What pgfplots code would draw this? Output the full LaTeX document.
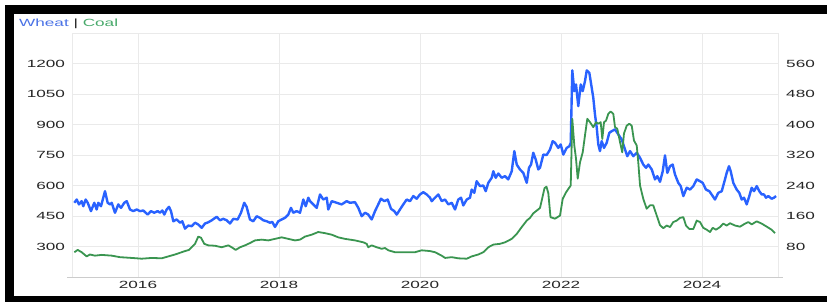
\documentclass[border=0pt]{standalone}
\usepackage{pgfplots}
\pgfplotsset{compat=1.18}
\usepackage{pgfplotstable}
\usepackage{fontspec}
\setmainfont{Liberation Sans}
\usepackage{graphicx}
\definecolor{wheat}{HTML}{2962FF}
\definecolor{coal}{HTML}{3A9550}
\definecolor{wheatlab}{HTML}{4A72E6}
\definecolor{coallab}{HTML}{47A96A}
\definecolor{gridc}{HTML}{EAEAEA}
\definecolor{lab}{HTML}{262626}
\newcommand\sx[1]{\scalebox{1.65}[1]{#1}}

\pgfplotstableread{
x v
2015.097 515
2015.131 531
2015.163 507
2015.201 523
2015.224 498
2015.258 531
2015.287 515
2015.333 474
2015.380 515
2015.414 482
2015.437 515
2015.475 498
2015.532 572
2015.570 515
2015.603 507
2015.627 515
2015.674 466
2015.721 507
2015.759 490
2015.806 515
2015.840 523
2015.887 482
2015.933 474
2015.982 482
2016.028 474
2016.075 477
2016.138 457
2016.184 474
2016.231 466
2016.279 474
2016.312 466
2016.345 477
2016.373 457
2016.407 482
2016.440 495
2016.468 474
2016.501 424
2016.549 433
2016.596 417
2016.628 424
2016.667 388
2016.714 403
2016.762 400
2016.809 417
2016.855 408
2016.904 392
2016.950 413
2016.997 419
2017.046 429
2017.116 446
2017.163 429
2017.210 436
2017.258 429
2017.305 413
2017.352 436
2017.414 433
2017.461 466
2017.507 515
2017.541 495
2017.588 433
2017.635 424
2017.684 449
2017.730 441
2017.777 429
2017.826 424
2017.872 417
2017.905 421
2017.943 396
2017.990 424
2018.038 433
2018.085 441
2018.132 457
2018.170 490
2018.203 466
2018.251 474
2018.298 466
2018.345 531
2018.379 498
2018.416 540
2018.440 523
2018.487 507
2018.535 490
2018.582 556
2018.628 531
2018.677 540
2018.699 482
2018.748 523
2018.818 515
2018.889 507
2018.960 523
2019.007 515
2019.078 518
2019.125 490
2019.173 449
2019.220 466
2019.266 457
2019.315 433
2019.362 474
2019.408 507
2019.446 535
2019.494 523
2019.542 531
2019.589 485
2019.635 474
2019.670 457
2019.716 482
2019.763 507
2019.811 531
2019.858 523
2019.905 548
2019.953 535
2020.000 556
2020.047 567
2020.095 556
2020.142 540
2020.166 523
2020.213 540
2020.260 556
2020.308 523
2020.355 531
2020.402 507
2020.450 515
2020.497 482
2020.543 531
2020.582 540
2020.614 502
2020.663 531
2020.709 540
2020.733 580
2020.770 564
2020.804 621
2020.851 597
2020.898 600
2020.932 572
2020.969 613
2021.017 638
2021.040 670
2021.074 638
2021.111 659
2021.159 638
2021.206 646
2021.252 630
2021.301 670
2021.338 769
2021.372 703
2021.418 679
2021.465 662
2021.514 613
2021.546 687
2021.575 703
2021.607 761
2021.641 728
2021.678 679
2021.702 687
2021.749 752
2021.797 750
2021.844 777
2021.882 818
2021.915 810
2021.962 785
2021.996 802
2022.033 752
2022.081 785
2022.118 793
2022.138 810
2022.160 1166
2022.189 1064
2022.213 1097
2022.245 990
2022.280 1097
2022.308 1064
2022.340 1113
2022.365 1166
2022.402 1154
2022.436 1080
2022.458 1031
2022.482 949
2022.507 884
2022.529 802
2022.553 769
2022.577 818
2022.610 785
2022.648 810
2022.685 859
2022.719 867
2022.766 876
2022.813 851
2022.861 826
2022.908 777
2022.940 744
2022.979 769
2023.026 744
2023.074 761
2023.121 736
2023.167 703
2023.206 687
2023.238 703
2023.287 679
2023.333 630
2023.366 646
2023.404 618
2023.443 670
2023.475 748
2023.508 662
2023.546 695
2023.584 703
2023.617 654
2023.664 613
2023.698 597
2023.735 548
2023.783 589
2023.830 580
2023.877 597
2023.925 630
2023.972 621
2024.010 613
2024.056 580
2024.104 572
2024.152 548
2024.184 531
2024.231 564
2024.280 572
2024.326 630
2024.350 662
2024.383 695
2024.407 670
2024.444 613
2024.492 580
2024.529 564
2024.563 531
2024.596 540
2024.634 507
2024.671 548
2024.705 589
2024.738 572
2024.776 597
2024.813 572
2024.847 556
2024.879 556
2024.908 540
2024.940 548
2024.988 535
2025.021 540
2025.050 548
}\wheattable

\pgfplotstableread{
x v
2015.097 65
2015.145 71
2015.201 65
2015.272 54
2015.319 59
2015.390 56
2015.485 58
2015.627 56
2015.745 52
2015.911 50
2016.052 48
2016.194 50
2016.336 49
2016.430 54
2016.525 59
2016.620 65
2016.667 68
2016.723 71
2016.738 74
2016.809 87
2016.855 106
2016.894 103
2016.940 87
2016.997 83
2017.092 82
2017.187 78
2017.281 83
2017.329 78
2017.386 71
2017.447 78
2017.518 83
2017.588 89
2017.660 96
2017.755 98
2017.848 96
2017.943 100
2018.038 104
2018.132 100
2018.227 96
2018.298 98
2018.369 106
2018.464 111
2018.557 118
2018.652 115
2018.748 111
2018.841 104
2018.936 100
2019.078 96
2019.196 91
2019.244 87
2019.266 78
2019.315 83
2019.386 78
2019.457 74
2019.504 76
2019.551 70
2019.645 65
2019.787 65
2019.929 65
2020.024 70
2020.142 68
2020.213 65
2020.308 56
2020.355 50
2020.450 52
2020.543 49
2020.663 48
2020.733 54
2020.827 59
2020.898 65
2020.969 78
2021.040 85
2021.135 87
2021.206 91
2021.301 100
2021.372 113
2021.443 131
2021.514 148
2021.560 155
2021.607 167
2021.655 174
2021.702 181
2021.738 210
2021.766 233
2021.794 237
2021.820 220
2021.851 157
2021.915 153
2021.986 161
2022.024 205
2022.071 222
2022.104 231
2022.138 240
2022.160 415
2022.189 345
2022.213 310
2022.237 258
2022.270 301
2022.308 327
2022.340 371
2022.373 415
2022.411 406
2022.458 393
2022.496 406
2022.529 402
2022.563 406
2022.586 362
2022.610 406
2022.638 410
2022.671 428
2022.705 434
2022.742 428
2022.766 393
2022.798 389
2022.837 354
2022.869 327
2022.893 376
2022.932 397
2022.969 402
2023.003 397
2023.035 358
2023.074 345
2023.096 301
2023.121 240
2023.167 205
2023.215 179
2023.262 188
2023.309 188
2023.358 161
2023.404 136
2023.451 128
2023.499 135
2023.546 131
2023.592 144
2023.641 148
2023.688 155
2023.735 157
2023.773 135
2023.820 126
2023.877 126
2023.925 148
2023.972 144
2024.018 129
2024.067 124
2024.114 118
2024.152 129
2024.199 124
2024.255 131
2024.302 140
2024.350 135
2024.397 141
2024.468 135
2024.539 132
2024.610 140
2024.657 144
2024.705 138
2024.776 146
2024.847 140
2024.918 132
2024.988 124
2025.036 115
}\coaltable

\begin{document}
\begin{tikzpicture}
\useasboundingbox (0pt,0pt) rectangle (827pt,302pt);
\fill[white] (0pt,0pt) rectangle (827pt,302pt);
\fill[black] (5pt,0pt) rectangle (827pt,6pt);
\fill[black] (5pt,288pt) rectangle (827pt,297pt);
\fill[black] (5pt,0pt) rectangle (14pt,297pt);

\begin{axis}[
  at={(72pt,25pt)}, anchor=south west,
  scale only axis, width=706pt, height=244pt,
  xmin=2015.064, xmax=2025.078,
  ymin=150, ymax=1350,
  axis line style={draw=gridc, line width=0.8pt},
  major tick length=0pt,
  grid=major,
  major grid style={draw=gridc, line width=0.8pt},
  xtick={2016,2018,2020,2022,2024},
  xticklabels={\sx{2016},\sx{2018},\sx{2020},\sx{2022},\sx{2024}},
  ytick={300,450,600,750,900,1050,1200},
  yticklabels={\sx{300},\sx{450},\sx{600},\sx{750},\sx{900},\sx{1050},\sx{1200}},
  tick label style={font=\fontsize{10.4}{12}\selectfont, text=lab},
  yticklabel style={xshift=-3.5pt},
  xticklabel style={yshift=-1pt},
  clip=false,
]
\addplot[wheat, line width=2.4pt, line join=round] table[x=x, y=v] {\wheattable};
\end{axis}

\begin{axis}[
  at={(72pt,25pt)}, anchor=south west,
  scale only axis, width=706pt, height=244pt,
  xmin=2015.064, xmax=2025.078,
  ymin=0, ymax=640,
  axis x line=none,
  axis y line*=right,
  axis line style={draw=none},
  major tick length=0pt,
  ytick={80,160,240,320,400,480,560},
  yticklabels={\sx{80},\sx{160},\sx{240},\sx{320},\sx{400},\sx{480},\sx{560}},
  tick label style={font=\fontsize{10.4}{12}\selectfont, text=lab},
  yticklabel style={xshift=4.7pt},
  clip=false,
]
\addplot[coal, line width=1.8pt, line join=round] table[x=x, y=v] {\coaltable};
\end{axis}

\draw[color=black!20, line width=0.8pt] (67pt,25pt) -- (783pt,25pt);
\node[anchor=west, inner sep=0pt, font=\fontsize{10.4}{12}\selectfont] at (19pt,278.5pt)
  {\sx{\textcolor{wheatlab}{Wheat} \textcolor{lab}{|} \textcolor{coallab}{Coal}}};
\end{tikzpicture}
\end{document}
